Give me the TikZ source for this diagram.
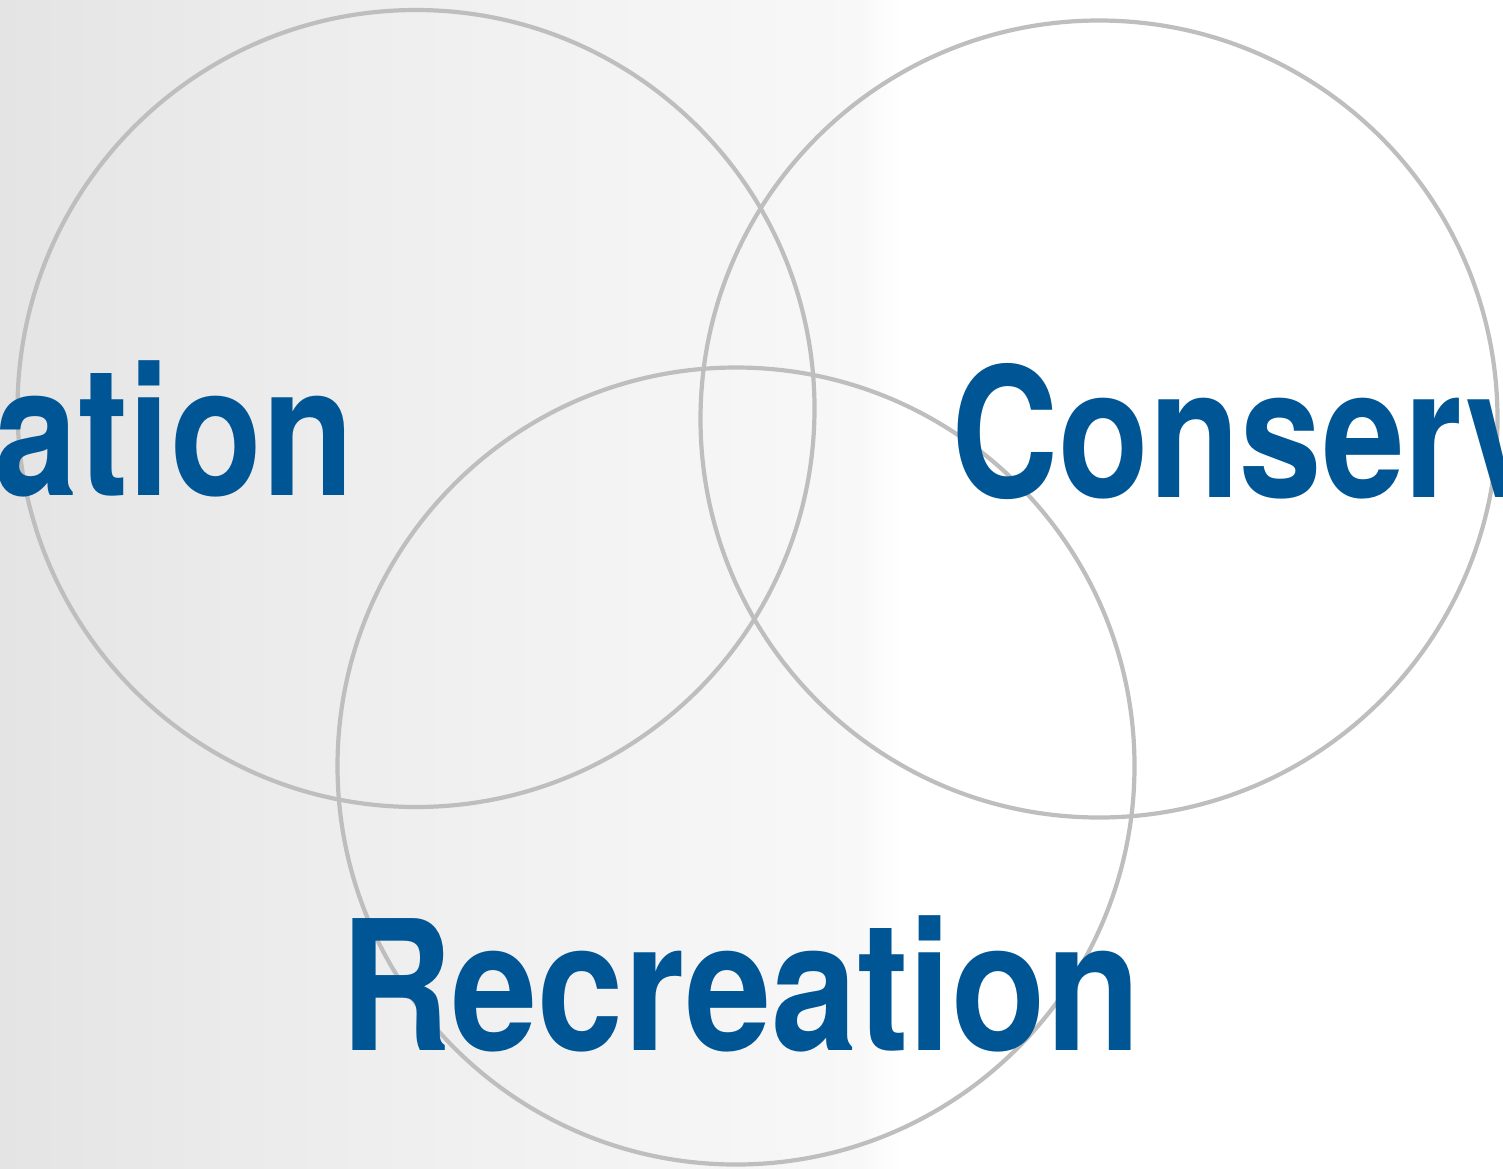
\documentclass[tikz,border=0pt]{standalone}
\usepackage{fontspec}
\usepackage{graphicx}
\setsansfont{TeX Gyre Heros}
\definecolor{vennline}{HTML}{BEBEBE}
\definecolor{vennblue}{HTML}{005595}
\definecolor{bgA}{HTML}{E4E4E4}
\definecolor{bgB}{HTML}{EAEAEA}
\definecolor{bgC}{HTML}{F1F1F1}
\definecolor{bgD}{HTML}{F8F8F8}
\tikzset{
  venn/.style={circle, draw=vennline, line width=4.2pt, minimum size=797pt, inner sep=0pt},
  lbl/.style={inner sep=0pt, text=vennblue, font=\sffamily\bfseries\fontsize{181}{181}\selectfont}
}
\newcommand{\cond}[2]{\scalebox{#1}[1]{#2}}
\begin{document}
\begin{tikzpicture}[x=1pt,y=-1pt]
\useasboundingbox (0,0) rectangle (1503,1168);
\clip (0,0) rectangle (1503,1168);
\fill[white] (0,0) rectangle (1503,1168);
\shade[left color=bgA, right color=bgB] (0,0) rectangle (200,1168);
\shade[left color=bgB, right color=bgC] (199.5,0) rectangle (500,1168);
\shade[left color=bgC, right color=bgD] (499.5,0) rectangle (860,1168);
\shade[left color=bgD, right color=white] (859.5,0) rectangle (900,1168);
\node[venn] (c1) at (416,408.5) {};
\node[venn] (c2) at (1099,419) {};
\node[venn] (c3) at (736,766) {};
\node[lbl, anchor=base east] (edu) at (354,495) {\cond{0.83}{ation}};
\node[lbl, anchor=base west] (con) at (951,497) {\cond{0.82}{Conserv}};
\node[lbl, anchor=base west] (rec) at (340,1050) {\cond{0.855}{Recreation}};
\end{tikzpicture}
\end{document}
